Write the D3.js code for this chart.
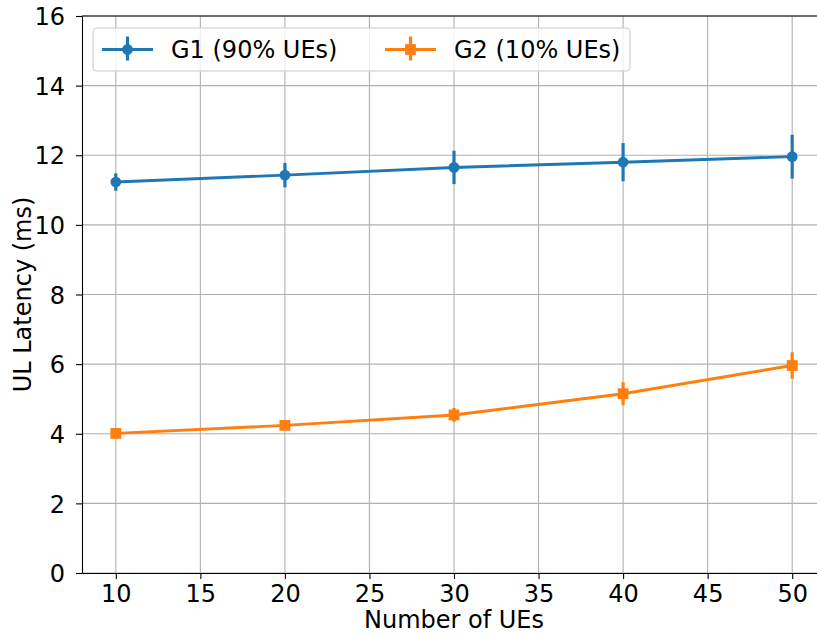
<!DOCTYPE html>
<html><head><meta charset="utf-8">
<script src="https://cdn.jsdelivr.net/npm/d3@7"></script>
<style>body{margin:0;background:#fff}svg{display:block}text{font-family:"DejaVu Sans",sans-serif}</style>
</head><body><svg id="c" width="817" height="635"></svg>
<script>
const ues = [10, 20, 30, 40, 50];
const g1Mean = [11.23, 11.43, 11.65, 11.80, 11.96];
const g1Err = [0.25, 0.35, 0.48, 0.55, 0.63];
const g2Mean = [4.01, 4.24, 4.54, 5.15, 5.96];
const g2Err = [0.08, 0.12, 0.2, 0.33, 0.38];
const xTicks = [10, 15, 20, 25, 30, 35, 40, 45, 50];
const yTicks = [0, 2, 4, 6, 8, 10, 12, 14, 16];
const seriesNames = ["G1 (90% UEs)", "G2 (10% UEs)"];
const colors = ["#1f77b4", "#ff7f0e"];

const FS = 24;
const svg = d3.select("#c");
const L = 82, R = 826, T = 16, B = 573;
const x = d3.scaleLinear().domain([8, 52]).range([L, R]);
const y = d3.scaleLinear().domain([0, 16]).range([B, T]);

// grid
const g = svg.append("g");
g.selectAll(".vx").data(xTicks).join("line")
  .attr("x1", d => x(d)).attr("x2", d => x(d)).attr("y1", T).attr("y2", B)
  .attr("stroke", "#b0b0b0").attr("stroke-width", 1.1);
g.selectAll(".hy").data(yTicks).join("line")
  .attr("x1", L).attr("x2", R).attr("y1", d => y(d)).attr("y2", d => y(d))
  .attr("stroke", "#b0b0b0").attr("stroke-width", 1.1);

// axes
const xAxis = svg.append("g").attr("transform", `translate(0,${B})`)
  .call(d3.axisBottom(x).tickValues(xTicks).tickSize(6).tickSizeOuter(0));
const yAxis = svg.append("g").attr("transform", `translate(${L},0)`)
  .call(d3.axisLeft(y).tickValues(yTicks).tickSize(6).tickSizeOuter(0));
[xAxis, yAxis].forEach(a => {
  a.selectAll("text").attr("font-size", FS).attr("fill", "#000").attr("font-family", "DejaVu Sans");
  a.selectAll("line").attr("stroke", "#000").attr("stroke-width", 1.1);
  a.select(".domain").attr("stroke", "#000").attr("stroke-width", 1.1);
});
xAxis.selectAll("text").attr("y", 29).attr("dy", 0);
yAxis.selectAll("text").attr("x", -17).attr("dy", "0.36em");
svg.append("line").attr("x1", L).attr("x2", R).attr("y1", T).attr("y2", T).attr("stroke", "#000").attr("stroke-width", 1.1);
svg.append("line").attr("x1", R).attr("x2", R).attr("y1", T).attr("y2", B).attr("stroke", "#000").attr("stroke-width", 1.1);

svg.append("text").attr("x", (L + R) / 2).attr("y", 628).attr("text-anchor", "middle")
  .attr("font-size", FS).text("Number of UEs");
svg.append("text").attr("transform", `translate(31,${(T + B) / 2}) rotate(-90)`).attr("text-anchor", "middle")
  .attr("font-size", FS).text("UL Latency (ms)");

const series = [
  {m: g1Mean, e: g1Err, c: colors[0], shape: "circle"},
  {m: g2Mean, e: g2Err, c: colors[1], shape: "square"}
];
const line = d3.line().x(d => x(d[0])).y(d => y(d[1]));
series.forEach(s => {
  const pts = ues.map((u, i) => [u, s.m[i], s.e[i]]);
  const sg = svg.append("g");
  sg.append("path").datum(pts).attr("d", line).attr("fill", "none")
    .attr("stroke", s.c).attr("stroke-width", 2.9);
  sg.selectAll(".eb").data(pts).join("line")
    .attr("x1", d => x(d[0])).attr("x2", d => x(d[0]))
    .attr("y1", d => y(d[1] - d[2])).attr("y2", d => y(d[1] + d[2]))
    .attr("stroke", s.c).attr("stroke-width", 3.2);
  if (s.shape === "circle") {
    sg.selectAll(".mk").data(pts).join("circle")
      .attr("cx", d => x(d[0])).attr("cy", d => y(d[1])).attr("r", 5.4).attr("fill", s.c);
  } else {
    sg.selectAll(".mk").data(pts).join("rect")
      .attr("x", d => x(d[0]) - 5.4).attr("y", d => y(d[1]) - 5.4)
      .attr("width", 10.8).attr("height", 10.8).attr("fill", s.c);
  }
});

// legend
const lg = svg.append("g");
lg.append("rect").attr("x", 93).attr("y", 28).attr("width", 537).attr("height", 43).attr("rx", 4)
  .attr("fill", "#fff").attr("fill-opacity", 0.8).attr("stroke", "#cccccc").attr("stroke-width", 1.1);
const legX = [102, 385];
series.forEach((s, i) => {
  const cy = 49.5, x0 = legX[i], xm = x0 + 25.5;
  lg.append("line").attr("x1", x0).attr("x2", x0 + 51).attr("y1", cy).attr("y2", cy)
    .attr("stroke", s.c).attr("stroke-width", 2.9);
  lg.append("line").attr("x1", xm).attr("x2", xm).attr("y1", cy - 13).attr("y2", cy + 11)
    .attr("stroke", s.c).attr("stroke-width", 3.2);
  if (s.shape === "circle") lg.append("circle").attr("cx", xm).attr("cy", cy).attr("r", 5.4).attr("fill", s.c);
  else lg.append("rect").attr("x", xm - 5.4).attr("y", cy - 5.4).attr("width", 10.8).attr("height", 10.8).attr("fill", s.c);
  lg.append("text").attr("x", x0 + 69).attr("y", cy + 8).attr("font-size", FS).text(seriesNames[i]);
});
</script></body></html>
